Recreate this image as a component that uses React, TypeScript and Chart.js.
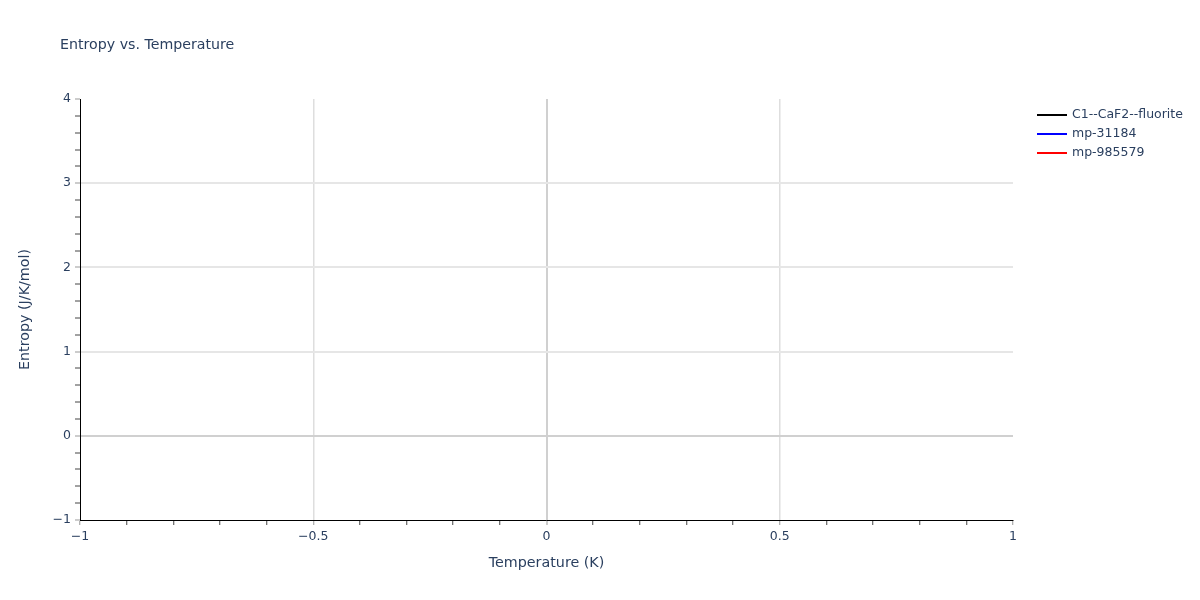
import React, { useEffect, useRef } from "react";
import { Chart, registerables } from "chart.js";

Chart.register(...registerables);

const seriesNames = ["C1--CaF2--fluorite", "mp-31184", "mp-985579"];
const seriesColors = ["#000000", "#0000ff", "#ff0000"];
const seriesTemps: number[][] = [[], [], []];
const seriesEntropy: number[][] = [[], [], []];
const xRange = [-1, 1];
const yRange = [-1, 4];
const titleText = "Entropy vs. Temperature";
const xTitle = "Temperature (K)";
const yTitle = "Entropy (J/K/mol)";

const FONT = "'DejaVu Sans', Verdana, sans-serif";
const TEXT = "#2a3f5f";

const fmt = (v: number) => {
  const s = String(Math.round(v * 10) / 10);
  return s.replace("-", "\u2212");
};

const near = (a: number, b: number) => Math.abs(a - b) < 1e-6;

const overlay = {
  id: "overlay",
  afterDraw(chart: any) {
    const ctx = chart.ctx;
    const ca = chart.chartArea;
    ctx.save();
    ctx.fillStyle = TEXT;
    ctx.textBaseline = "middle";
    ctx.textAlign = "left";
    ctx.font = `14.2px ${FONT}`;
    ctx.fillText(titleText, 60, 45);
    ctx.font = `14.3px ${FONT}`;
    ctx.textAlign = "center";
    ctx.fillText(xTitle, (ca.left + ca.right) / 2, 563);
    ctx.save();
    ctx.translate(25, (ca.top + ca.bottom) / 2);
    ctx.rotate(-Math.PI / 2);
    ctx.fillText(yTitle, 0, 0);
    ctx.restore();
    // legend
    ctx.textAlign = "left";
    ctx.font = `12.5px ${FONT}`;
    chart.data.datasets.forEach((ds: any, i: number) => {
      const y = 115 + i * 19;
      ctx.strokeStyle = ds.borderColor;
      ctx.lineWidth = 2;
      ctx.beginPath();
      ctx.moveTo(1037, y);
      ctx.lineTo(1067, y);
      ctx.stroke();
      ctx.fillStyle = TEXT;
      ctx.fillText(ds.label, 1072, y);
    });
    ctx.restore();
  },
};

export default function App() {
  const ref = useRef<HTMLCanvasElement>(null);
  useEffect(() => {
    document.body.style.margin = "0";
    const chart = new Chart(ref.current!, {
      type: "line",
      data: {
        datasets: seriesNames.map((n, i) => ({
          label: n,
          data: seriesTemps[i].map((t, j) => ({ x: t, y: seriesEntropy[i][j] })),
          borderColor: seriesColors[i],
          backgroundColor: seriesColors[i],
          borderWidth: 2,
          pointRadius: 0,
        })),
      },
      options: {
        animation: false,
        responsive: false,
        devicePixelRatio: 1,
        layout: { padding: { left: 0, top: 99, right: 187, bottom: 0 } },
        plugins: { legend: { display: false }, title: { display: false }, tooltip: { enabled: false } },
        scales: {
          x: {
            type: "linear",
            min: xRange[0],
            max: xRange[1],
            afterFit: (s: any) => { s.height = 80; },
            afterBuildTicks: (s: any) => {
              const t = [];
              for (let i = 0; i <= 20; i++) t.push({ value: Math.round((-1 + i * 0.1) * 10) / 10 });
              s.ticks = t;
            },
            border: { color: "#000000", width: 1 },
            grid: {
              color: (c: any) => {
                const v = c.tick?.value;
                if (v === undefined) return "rgba(0,0,0,0)";
                if (near(v, 0)) return "#d0d0d0";
                if (near(v * 2, Math.round(v * 2)) && !near(Math.abs(v), 1)) return "#dedede";
                return "rgba(0,0,0,0)";
              },
              lineWidth: (c: any) => (c.tick && near(c.tick.value, 0) ? 2 : 1.5),
              tickWidth: 1,
              tickColor: (c: any) => {
                const v = c.tick?.value;
                if (v !== undefined && near(v * 2, Math.round(v * 2))) return "#999999";
                return "#444444";
              },
              tickLength: 5,
              drawTicks: true,
            },
            ticks: {
              autoSkip: false,
              maxRotation: 0,
              padding: 4,
              color: TEXT,
              font: { family: FONT, size: 12.5 },
              callback: (v: any) => (near(v * 2, Math.round(v * 2)) ? fmt(v) : ""),
            },
          },
          y: {
            type: "linear",
            min: yRange[0],
            max: yRange[1],
            afterFit: (s: any) => { s.width = 80; },
            afterBuildTicks: (s: any) => {
              const t = [];
              for (let i = 0; i <= 25; i++) t.push({ value: Math.round((-1 + i * 0.2) * 10) / 10 });
              s.ticks = t;
            },
            border: { color: "#000000", width: 1 },
            grid: {
              color: (c: any) => {
                const v = c.tick?.value;
                if (v === undefined) return "rgba(0,0,0,0)";
                if (near(v, 0)) return "#d0d0d0";
                if (near(v, Math.round(v)) && v > 0 && v < 4) return "#e6e6e6";
                return "rgba(0,0,0,0)";
              },
              lineWidth: 2,
              tickWidth: 1,
              tickColor: (c: any) => {
                const v = c.tick?.value;
                if (v !== undefined && near(v, Math.round(v))) return "#999999";
                return "#444444";
              },
              tickLength: 5,
              drawTicks: true,
            },
            ticks: {
              autoSkip: false,
              padding: 4,
              color: TEXT,
              font: { family: FONT, size: 12.5 },
              callback: (v: any) => (near(v, Math.round(v)) ? fmt(v) : ""),
            },
          },
        },
      },
      plugins: [overlay],
    } as any);
    return () => chart.destroy();
  }, []);
  return (
    <div style={{ position: "fixed", left: 0, top: 0, width: 1200, height: 600, background: "#fff" }}>
      <canvas ref={ref} width={1200} height={600} style={{ width: 1200, height: 600 }} />
    </div>
  );
}
